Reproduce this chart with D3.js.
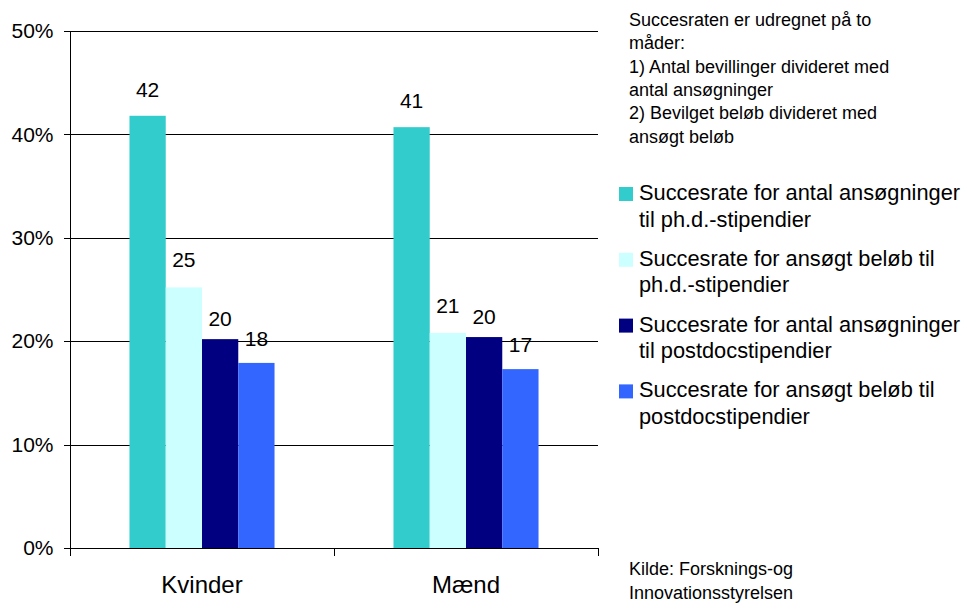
<!DOCTYPE html>
<html><head><meta charset="utf-8">
<script src="https://cdn.jsdelivr.net/npm/d3@7"></script>
<style>
body{margin:0;background:#fff;}
svg{display:block;font-family:Arial,"Liberation Sans",sans-serif;}
</style></head>
<body>
<svg id="c" width="963" height="604"></svg>
<script>
const categories = ["Kvinder", "Mænd"];
const seriesNames = [
  "Succesrate for antal ansøgninger til ph.d.-stipendier",
  "Succesrate for ansøgt beløb til ph.d.-stipendier",
  "Succesrate for antal ansøgninger til postdocstipendier",
  "Succesrate for ansøgt beløb til postdocstipendier"
];
const legendLines = [
  ["Succesrate for antal ansøgninger", "til ph.d.-stipendier"],
  ["Succesrate for ansøgt beløb til", "ph.d.-stipendier"],
  ["Succesrate for antal ansøgninger", "til postdocstipendier"],
  ["Succesrate for ansøgt beløb til", "postdocstipendier"]
];
const kvinderValues = [0.418, 0.252, 0.202, 0.179];
const maendValues = [0.407, 0.208, 0.204, 0.173];
const valueLabels = [["42", "25", "20", "18"], ["41", "21", "20", "17"]];
const yTicks = [0, 0.1, 0.2, 0.3, 0.4, 0.5];
const noteLines = ["Succesraten er udregnet på to", "måder:", "1) Antal bevillinger divideret med", "antal ansøgninger", "2) Bevilget beløb divideret med", "ansøgt beløb"];
const sourceLines = ["Kilde: Forsknings-og", "Innovationsstyrelsen"];

const colors = ["#33CCCC", "#CCFFFF", "#000080", "#3366FF"];
const labelOffsets = [19, 20, 13, 17];

const svg = d3.select("#c");
const L = 70, R = 598, T = 31, B = 548;
const x = d3.scaleBand().domain(categories).range([L, R]).padding(0);
const xs = d3.scaleBand().domain(d3.range(4)).range([0, x.bandwidth()]).paddingInner(0).paddingOuter(1.64);
const y = d3.scaleLinear().domain([0, 0.5]).range([B, T]);

// gridlines
svg.append("g").selectAll("line").data(yTicks).join("line")
  .attr("x1", L - 6).attr("x2", R)
  .attr("y1", d => Math.round(y(d)) + 0.5).attr("y2", d => Math.round(y(d)) + 0.5)
  .attr("stroke", "#000").attr("stroke-width", 1);

// y axis
const yAxis = svg.append("g").attr("transform", `translate(${L + 0.5},0)`)
  .call(d3.axisLeft(y).tickValues(yTicks).tickFormat(d3.format(".0%")).tickSize(6).tickPadding(11));
yAxis.select(".domain").remove();
yAxis.selectAll(".tick line").remove();
yAxis.selectAll("text").attr("font-size", 21).attr("fill", "#000").attr("font-family", "Arial, 'Liberation Sans', sans-serif");

svg.append("line").attr("x1", L + 0.5).attr("x2", L + 0.5).attr("y1", T).attr("y2", B + 8).attr("stroke", "#000");

// bars
const data = [kvinderValues, maendValues];
const groups = svg.append("g").selectAll("g").data(categories).join("g")
  .attr("transform", d => `translate(${x(d)},0)`);
groups.each(function(cat, ci) {
  const g = d3.select(this);
  g.selectAll("rect").data(data[ci]).join("rect")
    .attr("x", (d, i) => xs(i)).attr("width", xs.bandwidth())
    .attr("y", d => y(d)).attr("height", d => y(0) - y(d))
    .attr("fill", (d, i) => colors[i]);
  g.selectAll("text").data(data[ci]).join("text")
    .attr("x", (d, i) => xs(i) + xs.bandwidth() / 2)
    .attr("y", (d, i) => y(d) - labelOffsets[i])
    .attr("text-anchor", "middle").attr("font-size", 21).attr("fill", "#000")
    .text((d, i) => valueLabels[ci][i]);
});

// x axis line and ticks
svg.append("line").attr("x1", L).attr("x2", R).attr("y1", B + 0.5).attr("y2", B + 0.5).attr("stroke", "#000");
const xTickPos = [L, ...categories.map(c => x(c) + x.bandwidth())];
svg.append("g").selectAll("line").data(xTickPos).join("line")
  .attr("x1", d => Math.round(d) + 0.5).attr("x2", d => Math.round(d) + 0.5)
  .attr("y1", B).attr("y2", B + 8).attr("stroke", "#000");
svg.append("g").selectAll("text").data(categories).join("text")
  .attr("x", d => x(d) + x.bandwidth() / 2).attr("y", 593)
  .attr("text-anchor", "middle").attr("font-size", 24).attr("fill", "#000")
  .text(d => d);

// note
svg.append("g").selectAll("text").data(noteLines).join("text")
  .attr("x", 629).attr("y", (d, i) => 26 + i * 23.3)
  .attr("font-size", 18).attr("fill", "#000").text(d => d);

// legend
const leg = svg.append("g").selectAll("g").data(seriesNames).join("g")
  .attr("transform", (d, i) => `translate(619,${200 + i * 65.8})`);
leg.append("rect").attr("x", 0).attr("y", -13).attr("width", 14).attr("height", 14)
  .attr("fill", (d, i) => colors[i]);
leg.each(function(d, i) {
  d3.select(this).selectAll("text").data(legendLines[i]).join("text")
    .attr("x", 20).attr("y", (t, j) => j * 26.6)
    .attr("font-size", 21.8).attr("fill", "#000").text(t => t);
});

// source
svg.append("g").selectAll("text").data(sourceLines).join("text")
  .attr("x", 629).attr("y", (d, i) => 575 + i * 24)
  .attr("font-size", 18).attr("fill", "#000").text(d => d);
</script>
</body></html>
